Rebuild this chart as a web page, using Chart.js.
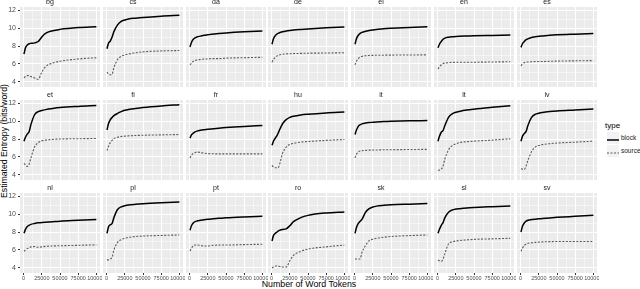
<!DOCTYPE html>
<html>
<head>
<meta charset="utf-8">
<script src="https://cdn.jsdelivr.net/npm/chart.js@4.4.0/dist/chart.umd.min.js"></script>
<style>
body{margin:0;width:640px;height:289px;overflow:hidden;background:#fff;position:relative;font-family:"Liberation Sans",Arial,sans-serif}
.panel{position:absolute}
.panel canvas{display:block}
.ytitle{position:absolute;left:4px;top:141px;transform:translate(-50%,-50%) rotate(-90deg);font-size:8.7px;white-space:nowrap;color:#000}
.xtitle{position:absolute;left:309px;top:284px;transform:translate(-50%,-50%);font-size:8.8px;white-space:nowrap;color:#000}
.legtitle{position:absolute;left:605px;top:121px;font-size:8px;color:#000}
.key{position:absolute;left:607px;width:12px;height:12px;background:#f2f2f2}
.keylab{position:absolute;left:621px;font-size:6.5px;color:#1a1a1a;line-height:12px}
</style>
</head>
<body>
<div class="ytitle">Estimated Entropy (bits/word)</div>
<div class="xtitle">Number of Word Tokens</div>
<div class="legtitle">type</div>
<div class="key" style="top:132px"><svg width="12" height="12"><line x1="0" y1="6" x2="12" y2="6" stroke="#000" stroke-width="1.5"/></svg></div>
<div class="keylab" style="top:132px">block</div>
<div class="key" style="top:145px"><svg width="12" height="12"><line x1="0" y1="6" x2="12" y2="6" stroke="#595959" stroke-width="1.1" stroke-dasharray="2 1.5"/></svg></div>
<div class="keylab" style="top:145px">source</div>
<script>
// facets, in the order ggplot lays them out (7 per row)
const LANGS = ['bg','cs','da','de','el','en','es','et','fi','fr','hu','it','lt','lv','nl','pl','pt','ro','sk','sl','sv'];

// number of word tokens where the curves are read
const TOKENS = [500, 2500, 5000, 7500, 10000, 15000, 20000, 25000, 30000, 40000, 50000, 75000, 100000];

// estimated entropy, "block" type, one row per language
const BLOCK = [
  [7.1, 7.8, 8.1, 8.25, 8.3, 8.35, 8.5, 9.0, 9.4, 9.7, 9.85, 10.05, 10.15],      // bg
  [7.7, 8.3, 8.55, 9.0, 9.6, 10.35, 10.75, 10.9, 11.0, 11.1, 11.18, 11.32, 11.42], // cs
  [7.9, 8.4, 8.75, 8.9, 9.0, 9.1, 9.2, 9.25, 9.3, 9.38, 9.45, 9.58, 9.68],        // da
  [8.2, 8.8, 9.15, 9.35, 9.45, 9.58, 9.66, 9.72, 9.77, 9.84, 9.9, 10.02, 10.12],  // de
  [8.2, 8.8, 9.2, 9.4, 9.52, 9.64, 9.72, 9.78, 9.83, 9.92, 9.97, 10.06, 10.13],   // el
  [7.8, 8.2, 8.5, 8.75, 8.88, 8.98, 9.03, 9.06, 9.08, 9.11, 9.14, 9.18, 9.22],    // en
  [7.85, 8.25, 8.5, 8.7, 8.8, 8.95, 9.02, 9.08, 9.12, 9.2, 9.25, 9.32, 9.38],     // es
  [7.75, 8.2, 8.55, 8.8, 9.6, 10.7, 11.05, 11.18, 11.27, 11.4, 11.5, 11.63, 11.72], // et
  [9.0, 9.7, 10.15, 10.4, 10.6, 10.85, 11.05, 11.2, 11.28, 11.4, 11.5, 11.68, 11.82], // fi
  [8.1, 8.45, 8.65, 8.8, 8.88, 8.97, 9.03, 9.08, 9.12, 9.2, 9.27, 9.4, 9.5],      // fr
  [7.3, 7.75, 8.1, 8.4, 8.85, 9.7, 10.15, 10.4, 10.53, 10.68, 10.76, 10.9, 11.0], // hu
  [8.5, 9.0, 9.4, 9.58, 9.68, 9.78, 9.83, 9.86, 9.89, 9.94, 9.97, 10.02, 10.05],  // it
  [7.75, 8.3, 8.75, 8.95, 9.5, 10.4, 10.8, 10.97, 11.07, 11.22, 11.32, 11.52, 11.7], // lt
  [7.75, 8.3, 8.6, 8.85, 9.5, 10.4, 10.75, 10.87, 10.95, 11.05, 11.12, 11.23, 11.34], // lv
  [7.85, 8.3, 8.6, 8.75, 8.85, 8.95, 9.02, 9.05, 9.08, 9.14, 9.2, 9.3, 9.4],      // nl
  [7.85, 8.55, 8.8, 8.95, 9.6, 10.5, 10.8, 10.92, 11.0, 11.08, 11.14, 11.25, 11.34], // pl
  [8.2, 8.7, 9.0, 9.15, 9.22, 9.3, 9.37, 9.42, 9.46, 9.52, 9.58, 9.68, 9.76],     // pt
  [7.0, 7.6, 7.85, 8.0, 8.15, 8.28, 8.35, 8.7, 9.15, 9.6, 9.85, 10.12, 10.24],    // ro
  [7.85, 8.5, 8.95, 9.2, 9.4, 10.2, 10.6, 10.78, 10.88, 10.97, 11.03, 11.1, 11.16], // sk
  [7.85, 8.3, 8.75, 9.05, 9.6, 10.2, 10.45, 10.55, 10.6, 10.68, 10.73, 10.82, 10.9], // sl
  [8.0, 8.65, 9.0, 9.2, 9.3, 9.38, 9.43, 9.47, 9.5, 9.57, 9.63, 9.75, 9.87]       // sv
];

// estimated entropy, "source" type
const SOURCE = [
  [4.45, 4.6, 4.7, 4.7, 4.6, 4.45, 4.3, 5.1, 5.7, 6.1, 6.3, 6.55, 6.7],   // bg
  [5.1, 4.9, 4.8, 4.85, 5.6, 6.5, 6.85, 7.0, 7.1, 7.25, 7.35, 7.45, 7.5], // cs
  [5.9, 6.1, 6.3, 6.4, 6.45, 6.5, 6.55, 6.55, 6.6, 6.6, 6.65, 6.7, 6.75], // da
  [6.2, 6.5, 6.75, 6.9, 7.0, 7.08, 7.12, 7.14, 7.16, 7.18, 7.2, 7.22, 7.25], // de
  [5.9, 6.3, 6.6, 6.78, 6.85, 6.92, 6.95, 6.96, 6.97, 6.98, 6.99, 7.0, 7.02], // el
  [5.45, 5.7, 5.9, 6.05, 6.1, 6.15, 6.18, 6.19, 6.2, 6.2, 6.2, 6.22, 6.25], // en
  [5.8, 6.0, 6.15, 6.2, 6.22, 6.25, 6.27, 6.27, 6.28, 6.3, 6.32, 6.35, 6.38], // es
  [5.3, 5.1, 4.95, 5.2, 5.9, 7.1, 7.6, 7.8, 7.88, 7.95, 8.0, 8.03, 8.06], // et
  [6.7, 7.2, 7.6, 7.85, 8.05, 8.2, 8.28, 8.32, 8.35, 8.39, 8.42, 8.46, 8.5], // fi
  [5.9, 6.2, 6.4, 6.5, 6.55, 6.5, 6.42, 6.38, 6.36, 6.35, 6.35, 6.35, 6.35], // fr
  [5.05, 4.9, 4.8, 4.8, 4.95, 6.4, 7.1, 7.4, 7.52, 7.65, 7.72, 7.85, 7.95], // hu
  [5.9, 6.3, 6.55, 6.66, 6.7, 6.74, 6.76, 6.77, 6.78, 6.8, 6.81, 6.83, 6.85], // it
  [4.5, 4.55, 4.65, 5.0, 5.8, 6.8, 7.25, 7.45, 7.6, 7.7, 7.76, 7.88, 8.02], // lt
  [4.7, 4.65, 4.62, 5.0, 5.6, 6.6, 7.1, 7.28, 7.38, 7.48, 7.55, 7.65, 7.76], // lv
  [5.85, 6.0, 6.15, 6.22, 6.35, 6.38, 6.3, 6.35, 6.4, 6.45, 6.47, 6.52, 6.57], // nl
  [4.9, 4.9, 5.0, 5.2, 6.0, 6.85, 7.15, 7.3, 7.4, 7.5, 7.55, 7.62, 7.67], // pl
  [5.9, 6.2, 6.45, 6.55, 6.55, 6.5, 6.45, 6.45, 6.5, 6.55, 6.55, 6.6, 6.64], // pt
  [4.0, 4.1, 4.2, 4.25, 4.2, 4.1, 4.1, 4.8, 5.4, 5.85, 6.1, 6.35, 6.55], // ro
  [5.0, 5.0, 5.0, 5.0, 5.7, 6.5, 7.05, 7.2, 7.3, 7.42, 7.5, 7.6, 7.67], // sk
  [4.9, 4.8, 4.75, 5.0, 5.6, 6.7, 6.9, 7.0, 7.05, 7.12, 7.18, 7.24, 7.3], // sl
  [5.85, 6.2, 6.5, 6.65, 6.75, 6.8, 6.85, 6.88, 6.9, 6.93, 6.94, 6.94, 6.95] // sv
];

// axis breaks (major get labels, minor only a thin grid line)
const X_TICKS = [0, 25000, 50000, 75000, 100000];
const X_MINOR = [12500, 37500, 62500, 87500];
const Y_TICKS = [4, 6, 8, 10, 12];
const Y_MINOR = [5, 7, 9, 11];

Chart.defaults.font.family = '"Liberation Sans", Arial, sans-serif';

const ROW_TOP = [7, 100, 193];

// ggplot grey panel background
const panelBg = {
  id: 'panelBg',
  beforeDraw(chart) {
    const {ctx, chartArea: a} = chart;
    ctx.save();
    ctx.fillStyle = '#ebebeb';
    ctx.fillRect(a.left, a.top, a.right - a.left, a.bottom - a.top);
    ctx.restore();
  }
};

function isMajor(ctx, majors) {
  return ctx.tick && majors.includes(ctx.tick.value);
}

LANGS.forEach((lang, k) => {
  const col = k % 7, row = Math.floor(k / 7);
  const showY = col === 0, showX = row === 2;

  const wrap = document.createElement('div');
  wrap.className = 'panel';
  wrap.style.left = Math.round(col * 82.8) + 'px';
  wrap.style.top = (ROW_TOP[row] - 10) + 'px';
  const cv = document.createElement('canvas');
  cv.width = 102; cv.height = 102;
  wrap.appendChild(cv);
  document.body.appendChild(wrap);

  new Chart(cv, {
    type: 'line',
    data: {
      datasets: [
        {
          label: 'block',
          data: TOKENS.map((x, j) => ({x: x, y: BLOCK[k][j]})),
          borderColor: '#000',
          borderWidth: 1.5,
          pointRadius: 0,
          cubicInterpolationMode: 'monotone',
          fill: false
        },
        {
          label: 'source',
          data: TOKENS.map((x, j) => ({x: x, y: SOURCE[k][j]})),
          borderColor: '#595959',
          borderWidth: 1.1,
          borderDash: [2, 1.5],
          pointRadius: 0,
          cubicInterpolationMode: 'monotone',
          fill: false
        }
      ]
    },
    options: {
      responsive: false,
      animation: false,
      devicePixelRatio: 1,
      layout: {padding: {right: 2}},
      plugins: {
        legend: {display: false},
        tooltip: {enabled: false},
        title: {
          display: true,
          text: lang,
          color: '#1a1a1a',
          font: {size: 7, lineHeight: 1, weight: 'normal'},
          padding: {top: 2, bottom: 1}
        }
      },
      scales: {
        x: {
          type: 'linear',
          min: -5000,
          max: 105000,
          afterBuildTicks: s => { s.ticks = X_TICKS.concat(X_MINOR).map(v => ({value: v})); },
          afterFit: s => { s.height = 12; s.paddingLeft = 0; s.paddingRight = 0; },
          border: {display: false},
          grid: {
            color: '#fff',
            lineWidth: c => isMajor(c, X_TICKS) ? 1 : 0.5,
            drawTicks: showX,
            tickLength: 2,
            tickColor: c => isMajor(c, X_TICKS) ? '#333' : 'rgba(0,0,0,0)'
          },
          ticks: {
            display: showX,
            autoSkip: false,
            maxRotation: 0,
            minRotation: 0,
            padding: 0,
            color: '#4d4d4d',
            font: {size: 5.5},
            callback: v => X_TICKS.includes(v) ? String(v) : ''
          }
        },
        y: {
          min: 3.44,
          max: 12.34,
          afterBuildTicks: s => { s.ticks = Y_TICKS.concat(Y_MINOR).map(v => ({value: v})); },
          afterFit: s => { s.width = 20; s.paddingTop = 0; s.paddingBottom = 0; },
          border: {display: false},
          grid: {
            color: '#fff',
            lineWidth: c => isMajor(c, Y_TICKS) ? 1 : 0.5,
            drawTicks: showY,
            tickLength: 2,
            tickColor: c => isMajor(c, Y_TICKS) ? '#333' : 'rgba(0,0,0,0)'
          },
          ticks: {
            display: showY,
            autoSkip: false,
            padding: 2,
            color: '#4d4d4d',
            font: {size: 7},
            callback: v => Y_TICKS.includes(v) ? String(v) : ''
          }
        }
      }
    },
    plugins: [panelBg]
  });
});
</script>
</body>
</html>
